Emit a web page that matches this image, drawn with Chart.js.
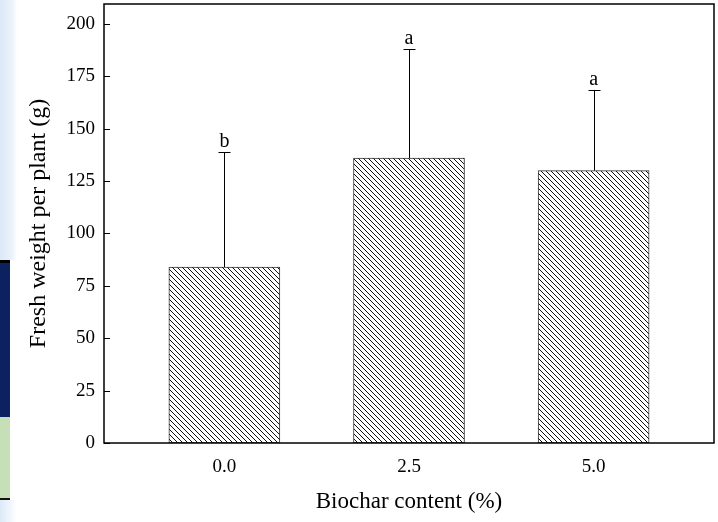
<!DOCTYPE html>
<html>
<head>
<meta charset="utf-8">
<script src="https://cdn.jsdelivr.net/npm/chart.js@4/dist/chart.umd.min.js"></script>
<style>
  html, body { margin: 0; padding: 0; background: #fff; }
  #wrap { position: relative; width: 718px; height: 522px; }
  .strip { position: absolute; left: 0; }
  #chart { position: absolute; left: 0; top: 0; }
</style>
</head>
<body>
<div id="wrap">
  <!-- leftover edge of the scanned page -->
  <div class="strip" style="top:0;width:17px;height:260px;background:linear-gradient(to right,#dce9f8,#eaf2fb 70%,#fff)"></div>
  <div class="strip" style="top:260px;width:10px;height:3px;background:#000"></div>
  <div class="strip" style="top:263px;width:10px;height:154px;background:#0b2160"></div>
  <div class="strip" style="top:417px;width:10px;height:81px;background:#c6dfb6"></div>
  <div class="strip" style="top:498px;width:10px;height:2px;background:#111"></div>
  <div class="strip" style="top:500px;width:17px;height:22px;background:linear-gradient(to right,#dce9f8,#fff)"></div>
  <canvas id="chart" width="718" height="522"></canvas>
</div>
<script>
// biochar content (%) on the x axis
const biochar = [0.0, 2.5, 5.0];
const freshWeight = [84, 136, 130];
const errUpper = [139, 188, 168.5];
const letters = ["b", "a", "a"];
const yTicks = [0, 25, 50, 75, 100, 125, 150, 175, 200];

const FONT = "'Liberation Serif', 'Times New Roman', serif";

function hatch() {
  const s = 5;
  const c = document.createElement("canvas");
  c.width = s;
  c.height = s;
  const g = c.getContext("2d");
  g.fillStyle = "#fff";
  g.fillRect(0, 0, s, s);
  g.strokeStyle = "#111";
  g.lineWidth = 1;
  g.beginPath();
  g.moveTo(-1, -1); g.lineTo(s + 1, s + 1);
  g.moveTo(-1, s - 1); g.lineTo(1, s + 1);
  g.moveTo(s - 1, -1); g.lineTo(s + 1, 1);
  g.stroke();
  return g.createPattern(c, "repeat");
}

const ctx = document.getElementById("chart").getContext("2d");

// frame, inner y ticks, error bars and letters
const extras = {
  id: "extras",
  afterDatasetsDraw(chart) {
    const { ctx, chartArea: a, scales } = chart;
    const x = scales.x, y = scales.y;
    ctx.save();
    ctx.strokeStyle = "#000";
    ctx.lineWidth = 1;
    ctx.beginPath();
    biochar.forEach((b, i) => {
      const px = Math.round(x.getPixelForValue(b)) + 0.5;
      const top = Math.round(y.getPixelForValue(errUpper[i])) + 0.5;
      const base = y.getPixelForValue(freshWeight[i]);
      ctx.moveTo(px, base);
      ctx.lineTo(px, top);
      ctx.moveTo(px - 6, top);
      ctx.lineTo(px + 6, top);
    });
    yTicks.forEach(t => {
      const py = Math.round(y.getPixelForValue(t)) + 0.5;
      ctx.moveTo(a.left, py);
      ctx.lineTo(a.left + 6, py);
    });
    ctx.stroke();

    ctx.lineWidth = 1.5;
    ctx.strokeRect(a.left, a.top, a.right - a.left, a.bottom - a.top);

    ctx.fillStyle = "#000";
    ctx.font = "20px " + FONT;
    ctx.textAlign = "center";
    ctx.textBaseline = "alphabetic";
    biochar.forEach((b, i) => {
      ctx.fillText(letters[i], x.getPixelForValue(b), y.getPixelForValue(errUpper[i]) - 5);
    });
    ctx.restore();
  }
};

new Chart(ctx, {
  type: "bar",
  data: {
    datasets: [{
      data: biochar.map((b, i) => ({ x: b, y: freshWeight[i] })),
      backgroundColor: hatch(),
      borderColor: "#333",
      borderWidth: 1,
      borderSkipped: false,
      barThickness: 111
    }]
  },
  options: {
    responsive: false,
    animation: false,
    layout: { padding: { top: 4, right: 4 } },
    plugins: { legend: { display: false }, tooltip: { enabled: false } },
    scales: {
      x: {
        type: "linear",
        min: -1.63,
        max: 6.63,
        offset: false,
        grid: { display: false, drawTicks: false },
        border: { display: false },
        afterBuildTicks: s => { s.ticks = biochar.map(v => ({ value: v })); },
        afterFit: s => { s.height = 79; s.paddingLeft = 0; s.paddingRight = 0; },
        ticks: {
          padding: 13,
          color: "#000",
          font: { family: FONT, size: 19 },
          callback: v => Number(v).toFixed(1)
        },
        title: {
          display: true,
          text: "Biochar content (%)",
          color: "#000",
          font: { family: FONT, size: 23 },
          padding: { top: 10, bottom: 6 }
        }
      },
      y: {
        min: 0,
        max: 209.5,
        grid: { display: false, drawTicks: false },
        border: { display: false },
        afterBuildTicks: s => { s.ticks = yTicks.map(v => ({ value: v })); },
        afterFit: s => { s.width = 104; s.paddingTop = 0; s.paddingBottom = 0; },
        ticks: {
          padding: 9,
          color: "#000",
          font: { family: FONT, size: 19 }
        },
        title: {
          display: true,
          text: "Fresh weight per plant (g)",
          color: "#000",
          font: { family: FONT, size: 24 },
          padding: { top: 24, bottom: 0 }
        }
      }
    }
  },
  plugins: [extras]
});
</script>
</body>
</html>
